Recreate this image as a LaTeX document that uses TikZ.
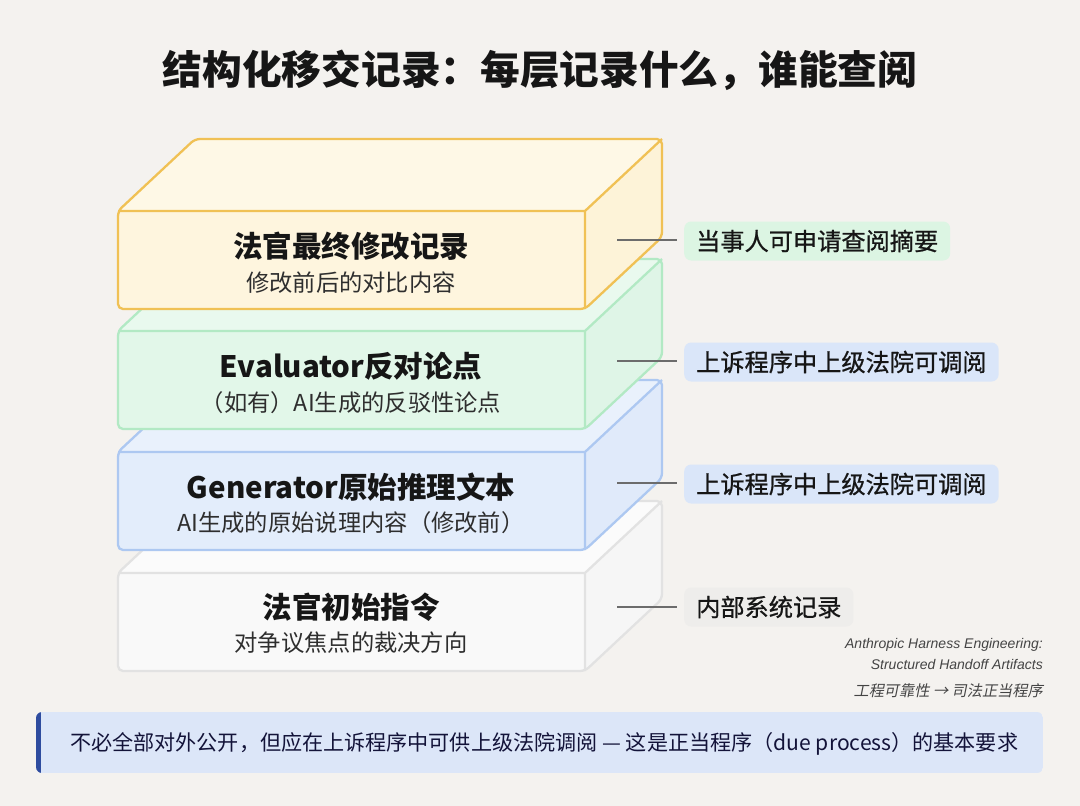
\documentclass[tikz,border=0pt]{standalone}
\usepackage{fontspec}
\setmainfont{Noto Sans CJK SC}
\newfontfamily\cjk{Noto Sans CJK SC}
\newfontfamily\cjkmed[FakeBold=0.8]{Noto Sans CJK SC}
\newfontfamily\cjkit[FakeSlant=0.2]{Noto Sans CJK SC}
\newfontfamily\latit{Liberation Sans}
\definecolor{bg}{HTML}{F4F2EF}
\definecolor{yfront}{HTML}{FEF5DE}
\definecolor{ytop}{HTML}{FEF8E6}
\definecolor{yside}{HTML}{FDF3D8}
\definecolor{ystroke}{HTML}{F0C155}
\definecolor{gfront}{HTML}{E2F7E9}
\definecolor{gtop}{HTML}{E9F9EE}
\definecolor{gside}{HTML}{DFF5E7}
\definecolor{gstroke}{HTML}{B2E9C4}
\definecolor{bfront}{HTML}{E3EDFB}
\definecolor{btop}{HTML}{E9F1FC}
\definecolor{bside}{HTML}{E0EAFA}
\definecolor{bstroke}{HTML}{ADC8F1}
\definecolor{wfront}{HTML}{F9F9F9}
\definecolor{wtop}{HTML}{FBFBFB}
\definecolor{wside}{HTML}{F6F6F6}
\definecolor{wstroke}{HTML}{E2E2E2}
\definecolor{lgreen}{HTML}{DCF5E3}
\definecolor{lblue}{HTML}{DAE6F9}
\definecolor{lgray}{HTML}{EEEDEB}
\definecolor{banner}{HTML}{DCE6F8}
\definecolor{accent}{HTML}{2E4C9F}
\definecolor{ink}{HTML}{161616}
\definecolor{subink}{HTML}{2E2E2E}
\definecolor{noteink}{HTML}{444444}
\newcommand\layerbox[6]{%
  \coordinate (#1FL) at (118,#2);
  \coordinate (#1FR) at (585,#2);
  \coordinate (#1BL) at (195,{#2-72});
  \coordinate (#1BR) at (662,{#2-72});
  \coordinate (#1BRb) at (662,{#2+98-72});
  \coordinate (#1FRb) at (585,{#2+98});
  \coordinate (#1FLb) at (118,{#2+98});
  \begin{scope}
    \clip[rounded corners=5pt] (#1FL) -- (#1BL) -- (#1BR) -- (#1BRb) -- (#1FRb) -- (#1FLb) -- cycle;
    \fill[#4] (#1FL) -- (#1BL) -- (#1BR) -- (#1FR) -- cycle;
    \fill[#5] (#1FR) -- (#1BR) -- (#1BRb) -- (#1FRb) -- cycle;
    \fill[#3] (#1FL) rectangle (#1FRb);
  \end{scope}
  \draw[#6, line width=2.3pt, rounded corners=5pt, line join=round] (#1FL) -- (#1BL) -- (#1BR) -- (#1BRb) -- (#1FRb) -- (#1FLb) -- cycle;
  \draw[#6, line width=2.3pt, line join=round] (#1FL) -- (#1FR) -- (#1BR) (#1FR) -- (#1FRb);
}
\begin{document}
\begin{tikzpicture}[x=1pt,y=-1pt,
  ttl/.style={font=\cjk\bfseries\fontsize{29.5}{32}\selectfont, text=ink, inner sep=0pt},
  sub/.style={font=\cjk\fontsize{23.3}{26}\selectfont, text=subink, inner sep=0pt},
  lab/.style={font=\cjkmed\fontsize{24.2}{26}\selectfont, text=ink, anchor=west, minimum height=39pt, inner xsep=12pt, inner ysep=0pt, rounded corners=7pt},
  conn/.style={draw=gray!85!black, line width=1.4pt},
  note/.style={font=\latit\itshape\fontsize{14}{16}\selectfont, text=noteink, anchor=east, inner sep=0pt},
]
\useasboundingbox (0,0) rectangle (1080,806);
\fill[bg] (0,0) rectangle (1080,806);

\node[font=\cjk\bfseries\fontsize{39.7}{44}\selectfont, text=ink, inner sep=0pt] (title) at (540,70) {结构化移交记录：每层记录什么，谁能查阅};

\layerbox{w}{573}{wfront}{wtop}{wside}{wstroke}
\layerbox{b}{452}{bfront}{btop}{bside}{bstroke}
\layerbox{g}{331}{gfront}{gtop}{gside}{gstroke}
\layerbox{y}{211}{yfront}{ytop}{yside}{ystroke}

\node[ttl] (t1) at (351,246) {法官最终修改记录};
\node[sub] (s1) at (351,283) {修改前后的对比内容};
\node[ttl] (t2) at (351,366) {Evaluator反对论点};
\node[sub] (s2) at (351,403) {（如有）AI生成的反驳性论点};
\node[ttl] (t3) at (351,487) {Generator原始推理文本};
\node[sub] (s3) at (351,523) {AI生成的原始说理内容（修改前）};
\node[ttl] (t4) at (351,607) {法官初始指令};
\node[sub] (s4) at (351,643) {对争议焦点的裁决方向};

\node[lab, fill=lgreen] (l1) at (684,241) {当事人可申请查阅摘要};
\node[lab, fill=lblue] (l2) at (684,362) {上诉程序中上级法院可调阅};
\node[lab, fill=lblue] (l3) at (684,484) {上诉程序中上级法院可调阅};
\node[lab, fill=lgray] (l4) at (684,607) {内部系统记录};

\coordinate (c1) at (617,240);
\coordinate (c2) at (617,361);
\coordinate (c3) at (617,483);
\coordinate (c4) at (617,607);
\draw[conn] (c1) -- ([xshift=-7pt]l1.west |- c1);
\draw[conn] (c2) -- ([xshift=-7pt]l2.west |- c2);
\draw[conn] (c3) -- ([xshift=-7pt]l3.west |- c3);
\draw[conn] (c4) -- ([xshift=-7pt]l4.west |- c4);

\node[note] (n1) at (1043,645) {Anthropic Harness Engineering:};
\node[note] (n2) at (1043,664) {Structured Handoff Artifacts};
\node[note, font=\cjkit\fontsize{15.2}{17}\selectfont] (n3) at (1043,691) {工程可靠性 → 司法正当程序};

\begin{scope}
  \clip[rounded corners=6pt] (36,712) rectangle (1043,773);
  \fill[banner] (36,712) rectangle (1043,773);
  \fill[accent] (36,712) rectangle (41,773);
\end{scope}
\node[font=\cjk\fontsize{21.1}{24}\selectfont, text=ink!85!blue, anchor=west, inner sep=0pt] (bn) at (70,744) {不必全部对外公开，但应在上诉程序中可供上级法院调阅 — 这是正当程序（due process）的基本要求};
\end{tikzpicture}
\end{document}
